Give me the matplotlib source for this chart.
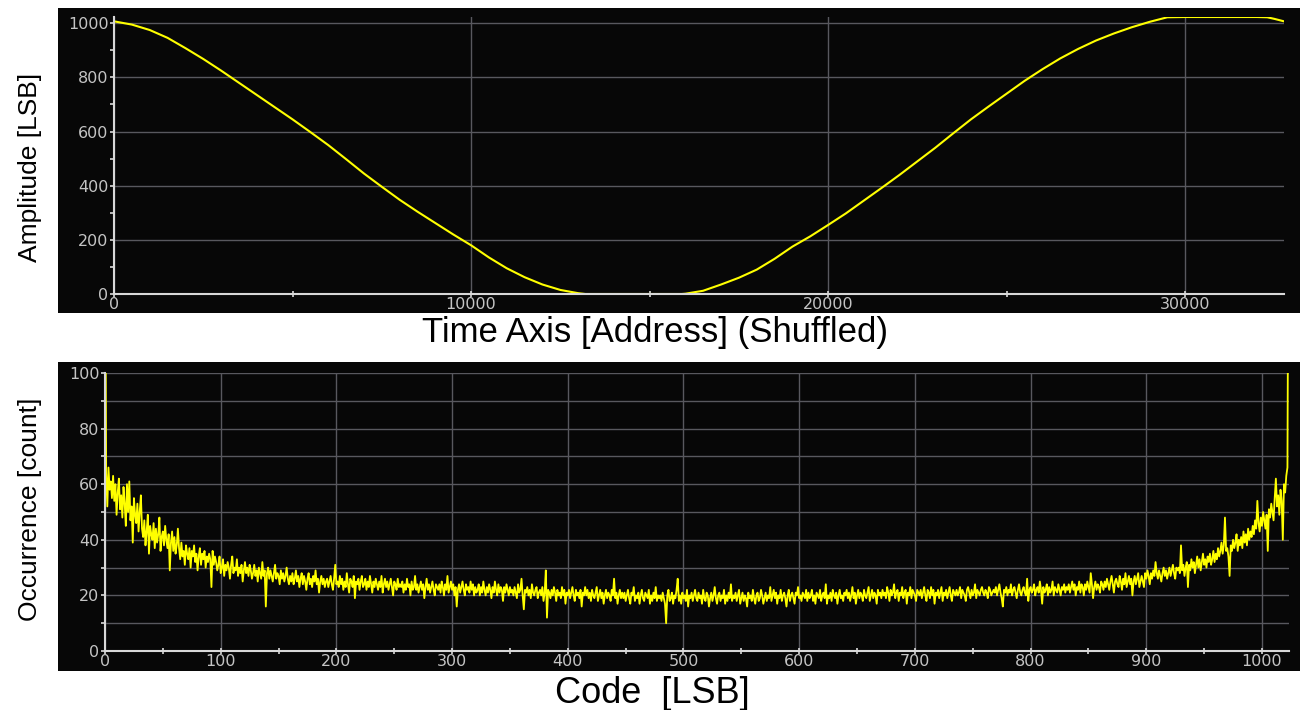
import matplotlib
matplotlib.use("Agg")
import matplotlib.pyplot as plt
from matplotlib.patches import Rectangle
from matplotlib.ticker import MultipleLocator

# --- dati: forma d'onda (indirizzo mescolato) ---
address = [0, 500, 1000, 1500, 2000, 2500, 3000, 3500, 4000, 4500, 5000,
           5500, 6000, 6500, 7000, 7500, 8000, 8500, 9000, 9500, 10000,
           10500, 11000, 11500, 12000, 12500, 13000, 13200, 14000, 15000,
           15900, 16000, 16500, 17000, 17500, 18000, 18500, 19000, 19500,
           20000, 20500, 21000, 21500, 22000, 22500, 23000, 23500, 24000,
           24500, 25000, 25500, 26000, 26500, 27000, 27500, 28000, 28500,
           29000, 29500, 30000, 31000, 32000, 32300, 32500, 32767]
amplitude = [1007, 995, 975, 946, 908, 868, 825, 780, 735, 690, 645,
             598, 550, 498, 445, 396, 348, 304, 262, 220, 180,
             135, 95, 62, 35, 15, 3, 0, 0, 0,
             0, 1, 12, 35, 60, 90, 130, 175, 213,
             255, 298, 345, 392, 440, 490, 540, 593, 645,
             693, 740, 787, 830, 870, 905, 936, 962, 985,
             1005, 1022, 1023, 1023, 1023, 1022, 1016, 1007]

# --- dati: istogramma dei codici (0..1023) ---
occurrence = [
    176, 64, 52, 66, 58, 61, 55, 63, 54, 60, 49, 57, 62, 51, 56, 48, 59, 53, 45, 60, 50, 61, 47, 52, 39, 55, 49, 46, 53, 43, 50, 56,
    44, 41, 47, 38, 43, 49, 35, 45, 42, 40, 46, 37, 44, 39, 42, 48, 36, 41, 43, 38, 45, 40, 37, 42, 29, 39, 43, 36, 41, 35, 38, 44,
    37, 33, 39, 34, 36, 31, 38, 35, 33, 37, 30, 36, 34, 38, 32, 35, 29, 34, 37, 31, 35, 33, 36, 30, 34, 32, 35, 33, 23, 36, 31, 34,
    32, 29, 31, 34, 28, 30, 33, 27, 31, 29, 32, 30, 26, 31, 34, 28, 30, 29, 33, 27, 30, 28, 31, 25, 29, 32, 28, 30, 27, 31, 29, 26,
    28, 31, 27, 29, 25, 30, 28, 26, 32, 27, 29, 16, 28, 30, 26, 29, 27, 25, 28, 31, 26, 28, 27, 24, 29, 26, 28, 25, 27, 30, 26, 24,
    27, 25, 28, 24, 26, 29, 25, 27, 23, 26, 28, 24, 27, 25, 22, 26, 28, 24, 26, 23, 27, 25, 29, 24, 26, 21, 25, 27, 24, 26, 23, 25,
    26, 23, 25, 27, 24, 22, 26, 31, 24, 25, 23, 27, 24, 26, 22, 25, 23, 28, 24, 21, 26, 25, 23, 27, 19, 25, 24, 26, 22, 25, 27, 23,
    24, 26, 22, 25, 23, 27, 24, 21, 25, 23, 26, 24, 22, 25, 23, 27, 21, 24, 26, 23, 25, 22, 24, 26, 23, 20, 25, 24, 22, 26, 23, 24,
    23, 25, 21, 24, 22, 26, 23, 24, 20, 25, 22, 23, 27, 22, 24, 21, 23, 25, 22, 24, 19, 23, 26, 22, 24, 21, 23, 25, 22, 20, 24, 23,
    22, 24, 21, 25, 23, 20, 24, 22, 27, 21, 23, 25, 22, 24, 20, 23, 16, 22, 24, 21, 23, 25, 22, 20, 24, 22, 23, 21, 25, 22, 24, 20,
    23, 21, 22, 24, 20, 23, 21, 25, 22, 20, 23, 21, 24, 22, 19, 23, 21, 25, 22, 20, 24, 21, 23, 22, 18, 23, 21, 24, 22, 20, 23, 21,
    22, 20, 23, 21, 19, 24, 21, 22, 26, 20, 15, 22, 21, 23, 20, 22, 19, 24, 21, 20, 22, 23, 19, 21, 22, 20, 23, 18, 21, 29, 12, 22,
    21, 19, 22, 20, 23, 21, 18, 22, 20, 21, 19, 23, 20, 22, 17, 21, 20, 22, 19, 21, 23, 20, 18, 22, 20, 21, 19, 22, 16, 21, 20, 23,
    20, 22, 19, 21, 18, 22, 20, 19, 21, 23, 18, 20, 22, 19, 21, 17, 20, 22, 19, 21, 20, 18, 22, 20, 26, 19, 21, 17, 20, 22, 19, 21,
    19, 21, 18, 20, 22, 19, 17, 21, 20, 23, 18, 20, 19, 21, 17, 20, 22, 19, 18, 21, 20, 19, 22, 17, 20, 18, 21, 19, 23, 18, 20, 19,
    20, 18, 21, 19, 17, 10, 20, 22, 18, 19, 21, 17, 20, 19, 22, 26, 18, 20, 17, 21, 19, 20, 18, 22, 16, 20, 19, 21, 18, 20, 22, 19,
    18, 21, 19, 20, 17, 22, 19, 18, 21, 20, 16, 19, 21, 18, 20, 23, 19, 17, 20, 21, 18, 20, 19, 22, 17, 20, 18, 21, 19, 24, 18, 20,
    19, 21, 18, 20, 22, 17, 19, 21, 18, 20, 19, 16, 21, 19, 20, 18, 22, 19, 17, 20, 21, 18, 19, 22, 20, 17, 19, 21, 18, 20, 19, 23,
    18, 20, 22, 19, 21, 17, 20, 19, 22, 18, 20, 21, 19, 16, 20, 22, 18, 20, 21, 19, 17, 21, 20, 23, 19, 20, 18, 21, 20, 19, 22, 18,
    21, 19, 20, 22, 18, 20, 17, 21, 20, 19, 22, 18, 20, 21, 19, 24, 17, 20, 19, 21, 18, 22, 20, 19, 21, 17, 20, 22, 19, 20, 18, 21,
    20, 22, 19, 21, 18, 20, 23, 19, 21, 17, 20, 22, 19, 21, 20, 18, 22, 20, 19, 21, 23, 18, 20, 22, 19, 21, 20, 17, 22, 20, 21, 19,
    22, 20, 21, 19, 23, 21, 18, 22, 20, 21, 24, 19, 21, 22, 18, 21, 20, 23, 19, 21, 22, 17, 21, 20, 23, 19, 22, 21, 20, 18, 22, 21,
    20, 22, 19, 21, 23, 20, 18, 22, 21, 19, 23, 20, 22, 17, 21, 20, 22, 19, 21, 23, 18, 21, 20, 22, 19, 21, 23, 20, 18, 22, 21, 20,
    22, 20, 21, 23, 19, 22, 21, 20, 18, 22, 23, 21, 19, 22, 20, 21, 24, 19, 22, 21, 20, 22, 23, 21, 20, 22, 21, 19, 23, 22, 20, 21,
    22, 21, 23, 20, 22, 24, 21, 19, 16, 22, 21, 23, 20, 22, 21, 24, 20, 22, 23, 21, 19, 22, 24, 21, 20, 22, 23, 21, 20, 26, 18, 22,
    23, 21, 22, 24, 20, 22, 23, 21, 25, 22, 17, 23, 21, 22, 24, 20, 23, 21, 22, 25, 20, 23, 22, 21, 24, 22, 20, 23, 22, 24, 21, 23,
    22, 24, 21, 23, 25, 22, 24, 20, 23, 22, 25, 21, 24, 23, 20, 24, 22, 25, 23, 21, 28, 24, 19, 23, 25, 22, 24, 23, 21, 25, 24, 22,
    25, 23, 26, 24, 22, 25, 27, 24, 21, 25, 26, 24, 23, 27, 25, 22, 26, 24, 28, 23, 25, 27, 24, 26, 20, 25, 27, 24, 26, 28, 23, 25,
    27, 25, 23, 28, 26, 29, 27, 24, 28, 26, 29, 27, 32, 28, 26, 29, 27, 25, 28, 30, 27, 29, 26, 28, 30, 27, 29, 31, 28, 26, 30, 29,
    30, 28, 38, 29, 31, 27, 30, 32, 23, 31, 29, 33, 30, 32, 28, 31, 34, 30, 33, 29, 32, 35, 31, 33, 30, 34, 32, 35, 31, 33, 36, 32,
    35, 33, 37, 34, 36, 39, 35, 38, 48, 36, 37, 34, 27, 38, 36, 40, 37, 39, 42, 36, 40, 38, 41, 37, 43, 39, 42, 38, 44, 40, 43, 41,
    45, 42, 47, 44, 54, 46, 43, 48, 45, 50, 47, 44, 49, 36, 51, 48, 53, 50, 47, 55, 62, 52, 56, 49, 58, 54, 40, 60, 57, 63, 66, 176,
]
codes = list(range(len(occurrence)))

W, H = 1300, 710
BG = "#070707"
GRID = "#58585e"
AXC = "#d8d8d8"
TXT = "#c4c4c4"
YELLOW = "#ffff00"


def px(x0, y0, x1, y1):
    # rettangolo in pixel (dall'alto) -> coordinate figura
    return [x0 / W, (H - y1) / H, (x1 - x0) / W, (y1 - y0) / H]


def style_axes(ax):
    ax.set_facecolor(BG)
    ax.set_zorder(2)
    for s in ["top", "right"]:
        ax.spines[s].set_visible(False)
    for s in ["left", "bottom"]:
        ax.spines[s].set_color(AXC)
        ax.spines[s].set_linewidth(1.5)
    ax.tick_params(which="both", colors=AXC, labelcolor=TXT, labelsize=11.5,
                   width=1.2)
    ax.tick_params(axis="y", which="major", direction="out", length=3, pad=1)
    ax.tick_params(axis="y", which="minor", direction="out", length=3)
    ax.tick_params(axis="x", which="major", direction="inout", length=4, pad=0)
    ax.tick_params(axis="x", which="minor", direction="inout", length=4)


fig = plt.figure(figsize=(13, 7.1), dpi=100)
fig.patch.set_facecolor("white")

# pannelli neri dietro ai grafici
for r in (px(58, 8, 1300, 313), px(58, 362, 1300, 671)):
    fig.add_artist(Rectangle((r[0], r[1]), r[2], r[3], transform=fig.transFigure,
                             facecolor=BG, edgecolor="none", zorder=-5))

# Grafico forma d'onda
ax1 = fig.add_axes(px(114, 17, 1284, 294))
style_axes(ax1)
ax1.plot(address, amplitude, color=YELLOW, lw=1.5)
ax1.set_xlim(0, 32767)
ax1.set_ylim(0, 1023)
ax1.xaxis.set_major_locator(MultipleLocator(10000))
ax1.xaxis.set_minor_locator(MultipleLocator(5000))
ax1.yaxis.set_major_locator(MultipleLocator(200))
ax1.yaxis.set_minor_locator(MultipleLocator(100))
ax1.grid(which="major", color=GRID, lw=1)
ax1.set_axisbelow(True)

# Istogramma dei codici
ax2 = fig.add_axes(px(105, 373, 1288.6, 651))
style_axes(ax2)
ax2.plot(codes, occurrence, color=YELLOW, lw=1.3)
ax2.set_xlim(0, 1023)
ax2.set_ylim(0, 100)
ax2.xaxis.set_major_locator(MultipleLocator(100))
ax2.xaxis.set_minor_locator(MultipleLocator(50))
ax2.yaxis.set_major_locator(MultipleLocator(20))
ax2.yaxis.set_minor_locator(MultipleLocator(10))
ax2.grid(which="major", color=GRID, lw=1)
ax2.grid(which="minor", axis="y", color=GRID, lw=1)
ax2.set_axisbelow(True)

# etichette degli assi
fig.text(655 / W, (H - 342) / H, "Time Axis [Address] (Shuffled)", ha="center",
         va="baseline", fontsize=25, family="Liberation Sans", color="black")
fig.text(652 / W, (H - 703) / H, "Code  [LSB]", ha="center", va="baseline",
         fontsize=26, family="Liberation Sans", color="black")
fig.text(30 / W, (H - 167) / H, "Amplitude [LSB]", rotation=90, ha="center",
         va="center", fontsize=19, family="Liberation Sans", color="black")
fig.text(30 / W, (H - 509) / H, "Occurrence [count]", rotation=90, ha="center",
         va="center", fontsize=19, family="Liberation Sans", color="black")

fig.savefig("out.png", dpi=100)
